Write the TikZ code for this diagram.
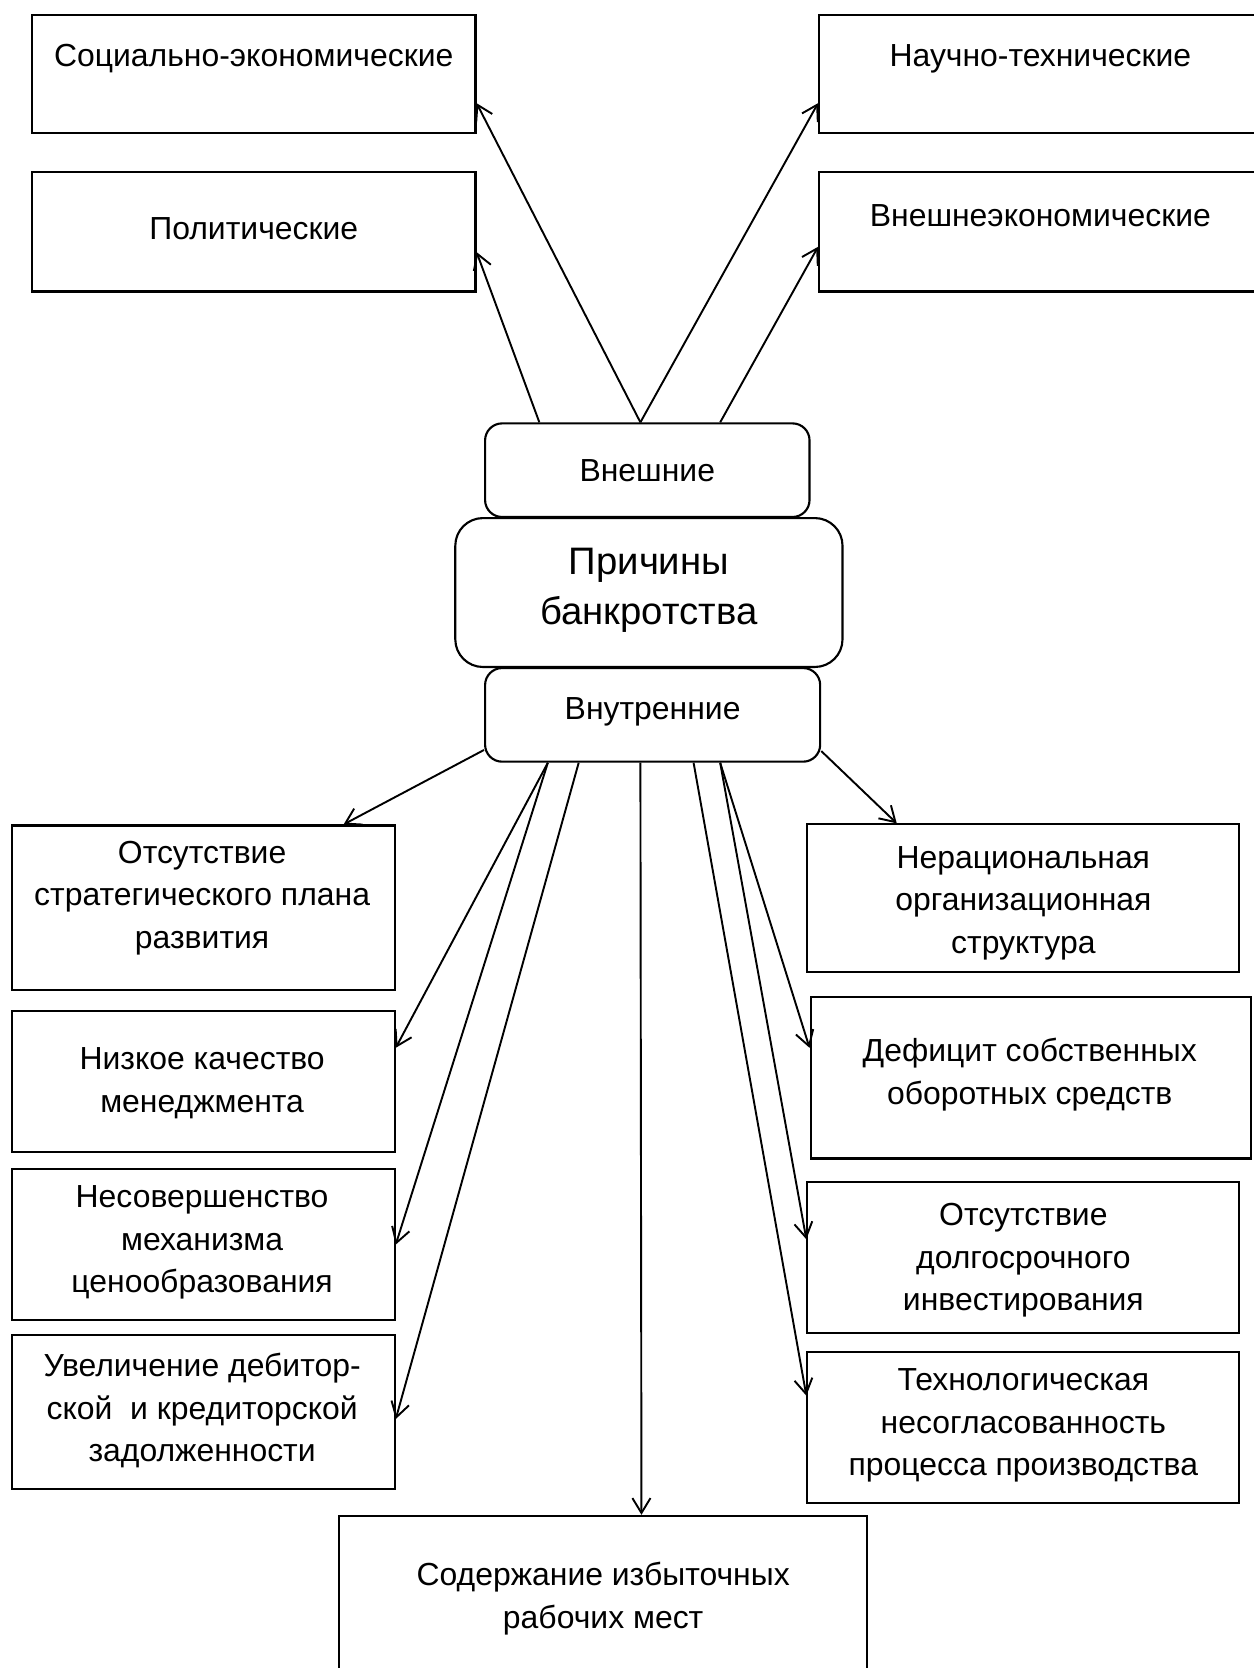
\documentclass[tikz,border=0pt]{standalone}
\usepackage{fontspec}
\setmainfont{Liberation Sans}
\usetikzlibrary{arrows.meta,calc}
\tikzset{
  box/.style={draw, line width=2pt, rectangle, inner sep=0pt},
  rbox/.style={draw, line width=2pt, rectangle, rounded corners=16pt, inner sep=0pt},
  txt/.style={align=center, inner sep=0pt, font=\fontsize{30}{40}\selectfont},
  big/.style={align=center, inner sep=0pt, font=\fontsize{36}{47}\selectfont},
  arr/.style={line width=1.8pt, -{Straight Barb[length=14pt,width=17pt,line width=1.8pt]}},
}
\begin{document}
\begin{tikzpicture}[x=1pt,y=-1pt]
\useasboundingbox (0,0) rectangle (1178,1568);
% top boxes
\node[box, minimum width=417, minimum height=111] (soc) at (238.5,69.5) {};
\node[txt] (soct) at (238.5,55) {Социально-экономические};
\node[box, minimum width=417, minimum height=112] (pol) at (238.5,218) {};
\node[txt] (polt) at (238.5,215) {Политические};
\node[box, minimum width=420, minimum height=111] (nauch) at (980,69.5) {};
\node[txt] (naucht) at (978,55) {Научно-технические};
\node[box, minimum width=420, minimum height=112] (vecon) at (980,218) {};
\node[txt] (vecont) at (978,203) {Внешнеэкономические};
% center
\node[rbox, minimum width=305, minimum height=88] (vnesh) at (608.5,442) {};
\node[txt] (vnesht) at (608.5,442) {Внешние};
\node[rbox, rounded corners=26pt, minimum width=364, minimum height=140] (prich) at (610,557) {};
\node[big] (pricht) at (610,555) {Причины\\банкротства};
\node[rbox, minimum width=315, minimum height=88] (vnutr) at (613.5,672) {};
\node[txt] (vnutrt) at (613.5,669) {Внутренние};
% left bottom boxes
\node[box, minimum width=360, minimum height=155] (otstr) at (191,853.5) {};
\node[txt] (otstrt) at (190,844) {Отсутствие\\стратегического плана\\развития};
\node[box, minimum width=360, minimum height=133] (nizk) at (191,1016.5) {};
\node[txt] (nizkt) at (190,1018) {Низкое качество\\менеджмента};
\node[box, minimum width=360, minimum height=142] (nesov) at (191,1170) {};
\node[txt] (nesovt) at (190,1168) {Несовершенство\\механизма\\ценообразования};
\node[box, minimum width=360, minimum height=145] (uvel) at (191,1327.5) {};
\node[txt] (uvelt) at (190,1326) {Увеличение дебитор-\\ской\ \ и кредиторской\\задолженности};
% right bottom boxes
\node[box, minimum width=406, minimum height=139] (nerac) at (962,844.5) {};
\node[txt] (neract) at (962,849) {Нерациональная\\организационная\\структура};
\node[box, minimum width=414, minimum height=152] (defic) at (969,1013) {};
\node[txt] (defict) at (968,1010) {Дефицит собственных\\оборотных средств};
\node[box, minimum width=406, minimum height=142] (otdol) at (962,1182) {};
\node[txt] (otdolt) at (962,1185) {Отсутствие\\долгосрочного\\инвестирования};
\node[box, minimum width=406, minimum height=142] (tekh) at (962,1342) {};
\node[txt] (tekht) at (962,1340) {Технологическая\\несогласованность\\процесса производства};
% bottom
\node[box, minimum width=496, minimum height=160] (soder) at (567,1505) {};
\node[txt] (sodert) at (567,1503) {Содержание избыточных\\рабочих мест};
% arrows up
\draw[arr] ($(vnesh.north west)+(52,0)$) -- (pol.east |- 0,237);
\draw[arr] ($(vnesh.north west)+(147,0)$) -- (soc.east |- 0,97);
\draw[arr] ($(vnesh.north west)+(147,0)$) -- (nauch.west |- 0,97);
\draw[arr] ($(vnesh.north west)+(222,0)$) -- (vecon.west |- 0,232);
% arrows down
\draw[arr] (vnutr.west |- 0,705) -- (323,0 |- otstr.north);
\draw[arr] ($(vnutr.south west)+(60,0)$) -- (nizk.east |- 0,985);
\draw[arr] ($(vnutr.south west)+(60,0)$) -- (nesov.east |- 0,1170);
\draw[arr] ($(vnutr.south west)+(89,0)$) -- (uvel.east |- 0,1334);
\draw[arr] ($(vnutr.south west)+(147,0)$) -- (soder.north -| 603,0);
\draw[arr] ($(vnutr.south west)+(197,0)$) -- (tekh.west |- 0,1312);
\draw[arr] ($(vnutr.south west)+(222,0)$) -- (defic.west |- 0,985);
\draw[arr] ($(vnutr.south west)+(222,0)$) -- (otdol.west |- 0,1165);
\draw[arr] (vnutr.east |- 0,706) -- (843,0 |- nerac.north);
\end{tikzpicture}
\end{document}
